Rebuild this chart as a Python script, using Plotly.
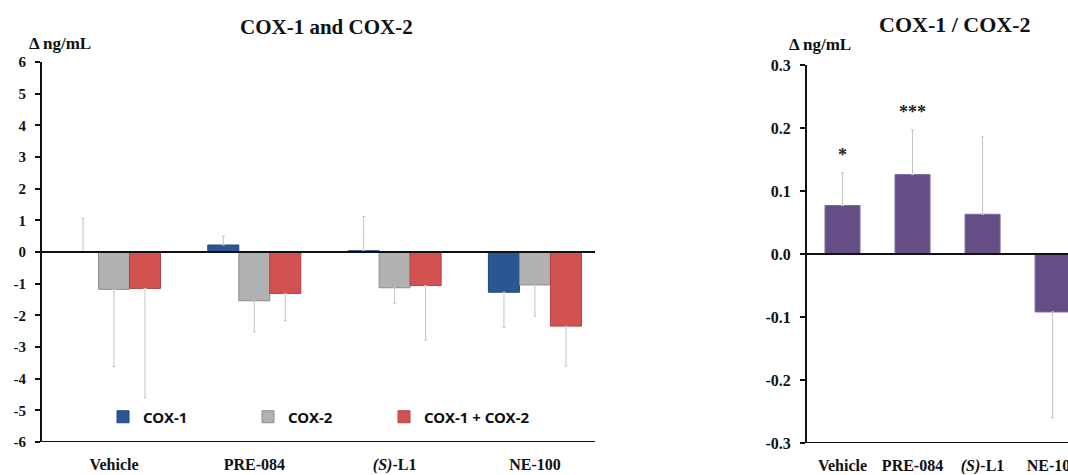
import numpy as np
import plotly.graph_objects as go

W, H = 1068, 475

# ---- data ----
groups = ["Vehicle", "PRE-084", "<i>(S)</i>-L1", "NE-100"]

cox1 = [0.01, 0.22, 0.04, -1.27]
cox1_sd = [1.05, 0.28, 1.08, 1.12]

cox2 = [-1.18, -1.54, -1.13, -1.04]
cox2_sd = [2.44, 0.98, 0.49, 0.98]

cox_sum = [-1.15, -1.31, -1.06, -2.34]
cox_sum_sd = [3.45, 0.86, 1.72, 1.26]

ratio = [0.077, 0.126, 0.063, -0.092]
ratio_sd = [0.052, 0.071, 0.123, 0.168]
ratio_sig = ["*", "***", "", ""]

left_ticks = [6, 5, 4, 3, 2, 1, 0, -1, -2, -3, -4, -5, -6]
right_ticks = [0.3, 0.2, 0.1, 0.0, -0.1, -0.2, -0.3]

SERIF = "Liberation Serif, Times New Roman, serif"
SANS = "Noto Sans, Arial, sans-serif"


def one_sided(vals, sd):
    """Error bar pointing away from zero."""
    v = np.asarray(vals, float)
    s = np.asarray(sd, float)
    up = np.where(v >= 0, s, 0.0)
    down = np.where(v < 0, s, 0.0)
    return dict(type="data", symmetric=False, array=up, arrayminus=down,
                color="#c4c4c4", thickness=1, width=1.5)


def px_x(p):
    return p / W


def px_y(p):
    return 1 - p / H


fig = go.Figure()

x_idx = list(range(len(groups)))
bw = 0.221
series = [
    ("COX-1", cox1, cox1_sd, "#2b5593", "#22467c", -1.5 * bw, "legend"),
    ("COX-2", cox2, cox2_sd, "#b1b1b1", "#8e8e8e", -0.5 * bw, "legend"),
    ("COX-1 + COX-2", cox_sum, cox_sum_sd, "#d15251", "#b44242", 0.5 * bw, "legend2"),
]
for name, vals, sd, col, edge, off, leg in series:
    fig.add_trace(go.Bar(
        x=x_idx, y=vals, name=name, width=bw, offset=off,
        marker=dict(color=col, line=dict(color=edge, width=1)),
        error_y=one_sided(vals, sd),
        xaxis="x", yaxis="y", showlegend=True, legend=leg,
    ))

fig.add_trace(go.Bar(
    x=x_idx, y=ratio, name="COX-1 / COX-2", width=0.5, offset=-0.25,
    marker=dict(color="#654e86", line=dict(color="#7c66a0", width=1)),
    error_y=one_sided(ratio, ratio_sd),
    xaxis="x2", yaxis="y2", showlegend=False,
))

# significance marks above the error bars
sig_y = [v + s + 0.012 for v, s in zip(ratio, ratio_sd)]
fig.add_trace(go.Scatter(
    x=[i for i, t in enumerate(ratio_sig) if t],
    y=[y for y, t in zip(sig_y, ratio_sig) if t],
    text=["<b>%s</b>" % t for t in ratio_sig if t],
    mode="text", textposition="top center",
    textfont=dict(family=SERIF, size=18, color="#222"),
    xaxis="x2", yaxis="y2", showlegend=False, hoverinfo="skip",
))

axis_common = dict(
    showgrid=False, zeroline=False, showline=True, linecolor="#111",
    linewidth=2, ticks="outside", ticklen=5, tickwidth=1.5, tickcolor="#111",
    ticklabelstandoff=6, automargin=False,
)
cat_common = dict(
    showline=False, showgrid=False, zeroline=False, ticks="",
    tickfont=dict(family=SERIF, size=16, color="#111"),
    ticklabeloverflow="allow", automargin=False, ticklabelstandoff=11,
    tickvals=x_idx, ticktext=["<b>%s</b>" % g for g in groups],
)
legend_common = dict(
    orientation="h", y=px_y(417), xanchor="left", yanchor="middle",
    font=dict(family=SANS, size=15, color="#111", weight="bold"),
    bgcolor="rgba(0,0,0,0)", itemwidth=30,
)

fig.update_layout(
    width=W, height=H,
    margin=dict(l=0, r=0, t=0, b=0, autoexpand=False),
    paper_bgcolor="white", plot_bgcolor="white",
    barmode="overlay",
    xaxis=dict(domain=[px_x(42), px_x(595)], range=[-0.513, 3.428],
               anchor="y", **cat_common),
    yaxis=dict(
        domain=[px_y(442), px_y(62)], range=[-6, 6],
        tickvals=left_ticks, ticktext=["<b>%d</b>" % t for t in left_ticks],
        tickfont=dict(family=SERIF, size=15, color="#111"),
        anchor="x", **axis_common,
    ),
    xaxis2=dict(domain=[px_x(807), 1.0], range=[-0.507, 3.22],
                anchor="y2", **cat_common),
    yaxis2=dict(
        domain=[px_y(443), px_y(65)], range=[-0.3, 0.3],
        tickvals=right_ticks, ticktext=["<b>%.1f</b>" % t for t in right_ticks],
        tickfont=dict(family=SERIF, size=16, color="#111"),
        anchor="x2", **axis_common,
    ),
    legend=dict(x=px_x(103), entrywidth=100, entrywidthmode="pixels",
                **legend_common),
    legend2=dict(x=px_x(384), **legend_common),
    showlegend=True,
)

# zero lines and bottom frame lines
for ax, levels in [("", (0, -6)), ("2", (0, -0.3))]:
    for yv in levels:
        fig.add_shape(type="line", xref="x" + ax + " domain", yref="y" + ax,
                      x0=0, x1=1, y0=yv, y1=yv,
                      line=dict(color="#111", width=2), layer="above")


def label(text, x, y, size):
    fig.add_annotation(text="<b>%s</b>" % text, x=px_x(x), y=px_y(y),
                       xref="paper", yref="paper", showarrow=False,
                       xanchor="center", yanchor="middle",
                       font=dict(family=SERIF, size=size, color="#111"))


label("COX-1 and COX-2", 326, 27, 21)
label("COX-1 / COX-2", 955, 25, 22)
label("Δ ng/mL", 60, 43, 17)
label("Δ ng/mL", 820, 45, 17)

fig.write_html("out.html")
